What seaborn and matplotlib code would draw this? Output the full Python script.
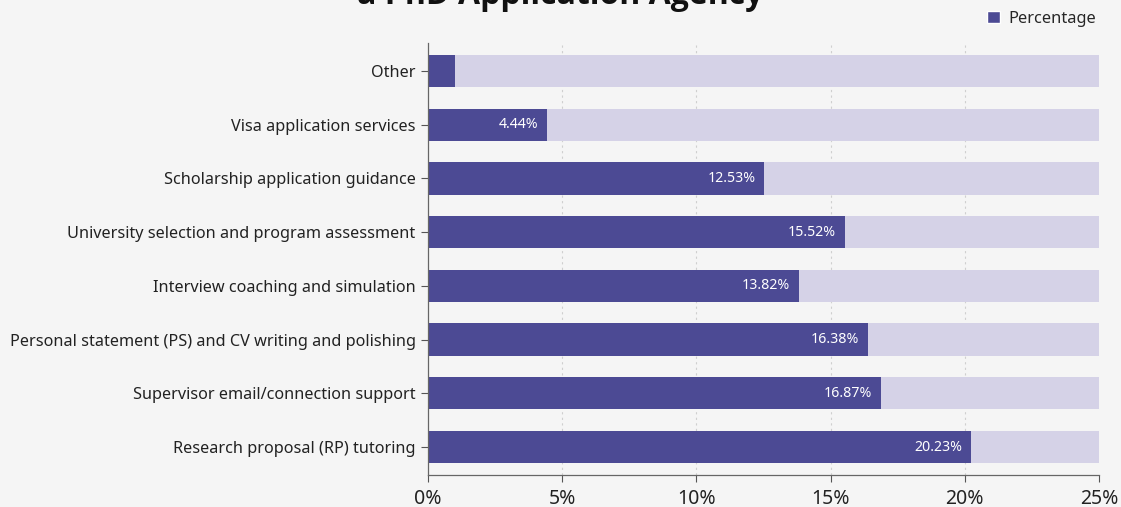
import matplotlib
matplotlib.use("Agg")
import matplotlib.pyplot as plt
import seaborn as sns
import pandas as pd
from matplotlib.patches import Patch

categories = [
    "Other",
    "Visa application services",
    "Scholarship application guidance",
    "University selection and program assessment",
    "Interview coaching and simulation",
    "Personal statement (PS) and CV writing and polishing",
    "Supervisor email/connection support",
    "Research proposal (RP) tutoring",
]
percentages = [1.0, 4.44, 12.53, 15.52, 13.82, 16.38, 16.87, 20.23]
labels = ["", "4.44%", "12.53%", "15.52%", "13.82%", "16.38%", "16.87%", "20.23%"]
x_ticks = [0, 5, 10, 15, 20, 25]
x_tick_labels = ["0%", "5%", "10%", "15%", "20%", "25%"]
x_max = 25

sns.set_theme(style="white")
plt.rcParams["font.family"] = ["Noto Sans", "DejaVu Sans"]

bg = "#f5f5f5"
fg_color = "#4c4a94"
track_color = "#d5d2e7"

df = pd.DataFrame({"category": categories, "value": percentages,
                   "track": [x_max] * len(categories)})

fig = plt.figure(figsize=(11.21, 5.07), dpi=100, facecolor=bg)
ax = fig.add_axes([428 / 1121, 1 - 475 / 507, 671 / 1121, (475 - 43) / 507])
ax.set_facecolor(bg)

sns.barplot(data=df, y="category", x="track", color=track_color, width=0.6,
            ax=ax, saturation=1, linewidth=0, zorder=2)
sns.barplot(data=df, y="category", x="value", color=fg_color, width=0.6,
            ax=ax, saturation=1, linewidth=0, zorder=3)

for i, (v, lab) in enumerate(zip(percentages, labels)):
    if lab:
        ax.text(v - 0.33, i, lab, ha="right", va="center", color="white",
                fontsize=10.2, zorder=4)

ax.set_xlim(0, x_max)
ax.set_ylim(7.52, -0.52)
ax.set_xticks(x_ticks)
ax.set_xticklabels(x_tick_labels, fontsize=14, color="#222222")
ax.tick_params(axis="y", labelsize=11.7, colors="#222222", length=5, width=0.8,
               left=True, color="#555555", pad=4)
ax.tick_params(axis="x", length=5, width=0.8, bottom=True, color="#555555", pad=5)
ax.set_xlabel("")
ax.set_ylabel("")
for t in x_ticks[1:-1]:
    ax.axvline(t, color="#cfcfcf", lw=0.8, ls=(0, (2, 3)), zorder=1)

for s in ["top", "right"]:
    ax.spines[s].set_visible(False)
for s in ["left", "bottom"]:
    ax.spines[s].set_color("#666666")
    ax.spines[s].set_linewidth(0.9)
    ax.spines[s].set_zorder(5)

fig.text(0.5, 1 - 4.5 / 507, "a PhD Application Agency", ha="center",
         va="baseline", fontsize=23, fontweight="bold", color="#111111",
         family=["Open Sans", "DejaVu Sans"])

fig.legend(handles=[Patch(facecolor=fg_color, label="Percentage")],
           loc="upper right", bbox_to_anchor=(1 - 10 / 1121, 1 + 4 / 507),
           frameon=False, fontsize=11.8, handlelength=0.8, handleheight=0.8,
           handletextpad=0.5)

fig.savefig("out.png", dpi=100, facecolor=bg)
